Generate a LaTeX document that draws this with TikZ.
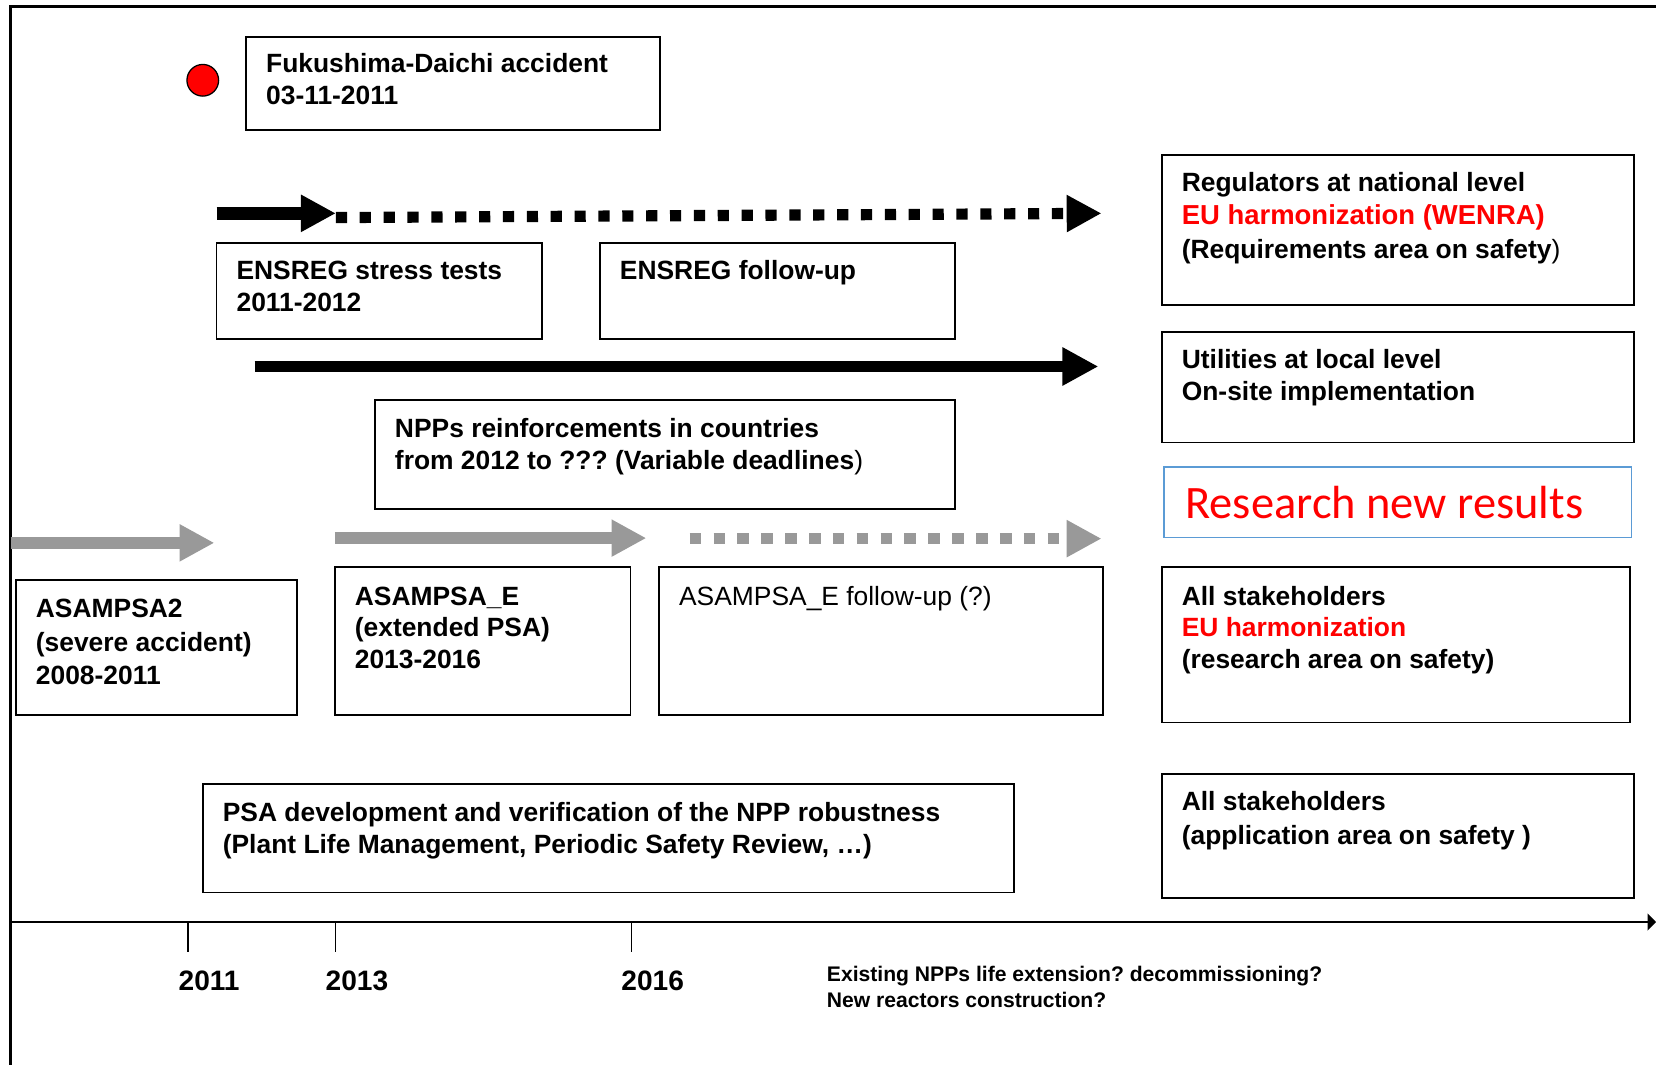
\documentclass[tikz,border=0pt]{standalone}
\usepackage{fontspec}
\setmainfont{Liberation Sans}
\newfontfamily\calibrifont{Carlito}
\usetikzlibrary{arrows.meta}
\definecolor{arrgray}{RGB}{153,153,153}
\definecolor{resblue}{RGB}{91,155,213}
\definecolor{txtred}{RGB}{255,0,0}
\frenchspacing
\newcommand{\mlines}[1]{\parbox[t]{420pt}{\raggedright #1}}
\begin{document}
\begin{tikzpicture}[x=0.5pt,y=-0.5pt,
  box/.style={draw, line width=0.85pt, inner sep=0pt, outer sep=0pt, anchor=north west},
  txt/.style={anchor=base west, inner sep=0pt, outer sep=0pt, font=\fontsize{12.5}{15}\selectfont\bfseries},
  yr/.style={anchor=base, inner sep=0pt, font=\fontsize{13.3}{16}\selectfont\bfseries},
  blk/.style={draw=black, line cap=butt, -{Triangle[length=16.5pt,width=16.5pt]}},
  gry/.style={draw=arrgray, line cap=butt, -{Triangle[length=16.5pt,width=16.5pt]}},
  tick/.style={draw=black, line width=0.6pt}]
\useasboundingbox (0,0) rectangle (1568,1008);
% frame
\draw[line width=1.1pt] (10,1008) -- (10,6) -- (1568,6);

% boxes
\node[box, minimum width=196pt, minimum height=44pt] (fuku) at (233,35) {};
\node[box, minimum width=154pt, minimum height=45.5pt] (ens1) at (205,230) {};
\node[box, minimum width=168pt, minimum height=45.5pt] (ens2) at (568,230) {};
\node[box, minimum width=223.5pt, minimum height=71pt] (reg) at (1100,147) {};
\node[box, minimum width=223.5pt, minimum height=52.5pt] (util) at (1100,314) {};
\node[box, minimum width=274.5pt, minimum height=51.5pt] (npp) at (355,379) {};
\node[box, draw=resblue, line width=0.65pt, minimum width=221.5pt, minimum height=33.5pt] (res) at (1102,442) {};
\node[box, minimum width=133pt, minimum height=64pt] (asa2) at (15,549) {};
\node[box, minimum width=140pt, minimum height=70pt] (asae) at (317,537) {};
\node[box, minimum width=210pt, minimum height=70pt] (asaf) at (624,537) {};
\node[box, minimum width=221.5pt, minimum height=73.5pt] (all1) at (1100,537) {};
\node[box, minimum width=384pt, minimum height=51.5pt] (psa) at (192,742) {};
\node[box, minimum width=223.5pt, minimum height=58.5pt] (all2) at (1100,733) {};

% red dot
\node[circle, draw, fill=red, line width=0.6pt, minimum size=15pt, inner sep=0pt] (dot) at (192,76) {};

% texts
\node[txt] (tfuku) at (252,69) {\mlines{Fukushima-Daichi accident\\03-11-2011}};
\node[txt] (tens1) at (224,265) {\mlines{ENSREG stress tests\\2011-2012}};
\node[txt] (tens2) at (587,265) {ENSREG follow-up};
\node[txt, font=\fontsize{12.5}{16}\selectfont\bfseries] (treg) at (1119,181)
  {\mlines{Regulators at national level\\{\fontsize{13}{16}\selectfont\color{txtred}EU harmonization (WENRA)}\\(Requirements area on safety\mdseries)}};
\node[txt] (tutil) at (1119,349) {\mlines{Utilities at local level\\On-site implementation}};
\node[txt, font=\fontsize{12.5}{15.5}\selectfont\bfseries] (tnpp) at (374,414)
  {\mlines{NPPs reinforcements in countries\\from 2012 to ??? (Variable deadlines\mdseries)}};
\node[anchor=base west, inner sep=0pt, font=\calibrifont\fontsize{22}{26}\selectfont, text=txtred] (tres) at (1122,491) {Research new results};
\node[txt, font=\fontsize{12.5}{15.75}\selectfont\bfseries] (tasa2) at (34,585) {\mlines{ASAMPSA2\\(severe accident)\\2008-2011}};
\node[txt] (tasae) at (336,573) {\mlines{ASAMPSA\_E\\(extended PSA)\\2013-2016}};
\node[txt, font=\fontsize{12.5}{15}\selectfont] (tasaf) at (643,573) {ASAMPSA\_E follow-up (?)};
\node[txt] (tall1) at (1119,573) {\mlines{All stakeholders\\{\color{txtred}EU harmonization}\\(research area on safety)}};
\node[txt] (tpsa) at (211,778) {\mlines{PSA development and verification of the NPP robustness\\(Plant Life Management, Periodic Safety Review, …)}};
\node[txt, font=\fontsize{12.5}{16.5}\selectfont\bfseries] (tall2) at (1119,767) {\mlines{All stakeholders\\(application area on safety )}};

% arrows
\coordinate (a1s) at (205,202);
\coordinate (a1m) at (318,202);
\coordinate (a1d) at (318,206);
\coordinate (a1e) at (1043,202);
\draw[blk, line width=6pt] (a1s) -- (a1m);
\draw[blk, line width=5.3pt, dash pattern=on 5.3pt off 6pt] (a1d) -- (a1e);

\coordinate (a2s) at (241,347);
\coordinate (a2e) at (1040,347);
\draw[blk, line width=5.5pt, -{Triangle[length=17pt,width=17pt]}] (a2s) -- (a2e);

\coordinate (g1s) at (10,514);
\coordinate (g1e) at (203,514);
\draw[gry, line width=6pt] (g1s) -- (g1e);
\coordinate (g2s) at (317,509.5);
\coordinate (g2e) at (612,509.5);
\draw[gry, line width=6pt] (g2s) -- (g2e);
\coordinate (g3s) at (653,510);
\coordinate (g3e) at (1043,510);
\draw[gry, line width=5.5pt, dash pattern=on 5.5pt off 5.8pt] (g3s) -- (g3e);

% time axis
\coordinate (ax0) at (10,873);
\coordinate (ax1) at (1568,873);
\draw[line width=0.9pt, -{Triangle[length=4pt,width=8pt]}] (ax0) -- (ax1);
\coordinate (k1a) at (178,873); \coordinate (k1b) at (178,901);
\coordinate (k2a) at (318,873); \coordinate (k2b) at (318,901);
\coordinate (k3a) at (598,873); \coordinate (k3b) at (598,901);
\draw[tick] (k1a) -- (k1b);
\draw[tick] (k2a) -- (k2b);
\draw[tick] (k3a) -- (k3b);
\node[yr] (y2011) at (198,938) {2011};
\node[yr] (y2013) at (338,938) {2013};
\node[yr] (y2016) at (618,938) {2016};
\node[txt, font=\fontsize{10}{12.5}\selectfont\bfseries] (tfut) at (783,929)
  {\mlines{Existing NPPs life extension? decommissioning?\\New reactors construction?}};
\end{tikzpicture}
\end{document}
